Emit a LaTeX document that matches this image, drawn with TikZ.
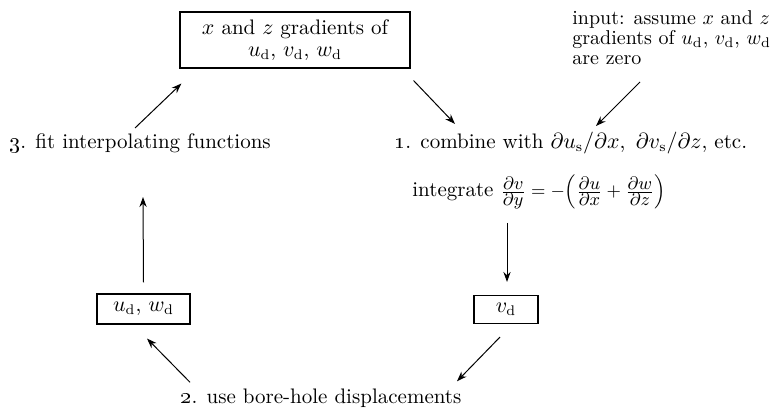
\documentclass[tikz,border=0pt]{standalone}
\usepackage{amsmath,amssymb}
\usepackage{tikz}
\usetikzlibrary{arrows.meta,positioning,calc}

\newcommand{\pdfrac}[2]{\frac{\textstyle\partial #1}{\textstyle\partial #2}}

\begin{document}
\begin{tikzpicture}[x=0.5pt,y=-0.5pt,>={Stealth[length=5pt,width=3.6pt]},
  font=\fontsize{10.5}{11}\selectfont,
  box/.style={draw,line width=0.55pt,inner sep=0pt,align=center},
  lbl/.style={inner sep=0pt,align=left},
  link/.style={->,line width=0.5pt}]
  \useasboundingbox (0,0) rectangle (781,410);
  % boxes and labels
  \node[box,minimum width=115pt,minimum height=28pt] (grad) at (295,40)
    {$x$ and $z$ gradients of\\$u_{\mathrm{d}}$, $v_{\mathrm{d}}$, $w_{\mathrm{d}}$};
  \node[lbl,anchor=north west,font=\fontsize{10}{10}\selectfont] (input) at (572,10)
    {input: assume $x$ and $z$\\gradients of $u_{\mathrm{d}}$, $v_{\mathrm{d}}$, $w_{\mathrm{d}}$\\are zero};
  \node[lbl,anchor=west] (comb) at (394,143)
    {\oldstylenums{1}. combine with $\partial u_{\mathrm{s}}/\partial x$,\enspace$\partial v_{\mathrm{s}}/\partial z$, etc.};
  \node[lbl,anchor=west] (integ) at (412,192)
    {integrate {\fontsize{9.5}{11}\selectfont$\pdfrac{v}{y}=-\Bigl(\pdfrac{u}{x}+\pdfrac{w}{z}\Bigr)$}};
  \node[lbl,anchor=west] (fit) at (9,143) {\oldstylenums{3}. fit interpolating functions};
  \node[box,minimum width=46.5pt,minimum height=15pt] (uw) at (143.5,309) {$u_{\mathrm{d}}$, $w_{\mathrm{d}}$};
  \node[box,minimum width=32pt,minimum height=14pt] (vd) at (506,309.5) {$v_{\mathrm{d}}$};
  \node[lbl] (bore) at (321,398) {\oldstylenums{2}. use bore-hole displacements};
  % arrows
  \draw[link] ($(grad.south east)+(3,12)$) -- ($(comb.west)+(61,-19)$);
  \draw[link] ($(input.north west)+(68,72)$) -- ($(comb.west)+(202,-17)$);
  \draw[link] ($(integ.west)+(95,31)$) -- ($(vd.north)+(1,-13)$);
  \draw[link] ($(vd.south)+(-6,13)$) -- ($(bore.north)+(136,-7)$);
  \draw[link] ($(bore.north)+(-131,-6)$) -- ($(uw.south)+(3.5,14)$);
  \draw[link] ($(uw.north)+(0,-11)$) -- ($(fit.west)+(134,54)$);
  \draw[link] ($(fit.west)+(126,-15)$) -- ($(grad.south west)+(2,15)$);
\end{tikzpicture}
\end{document}
